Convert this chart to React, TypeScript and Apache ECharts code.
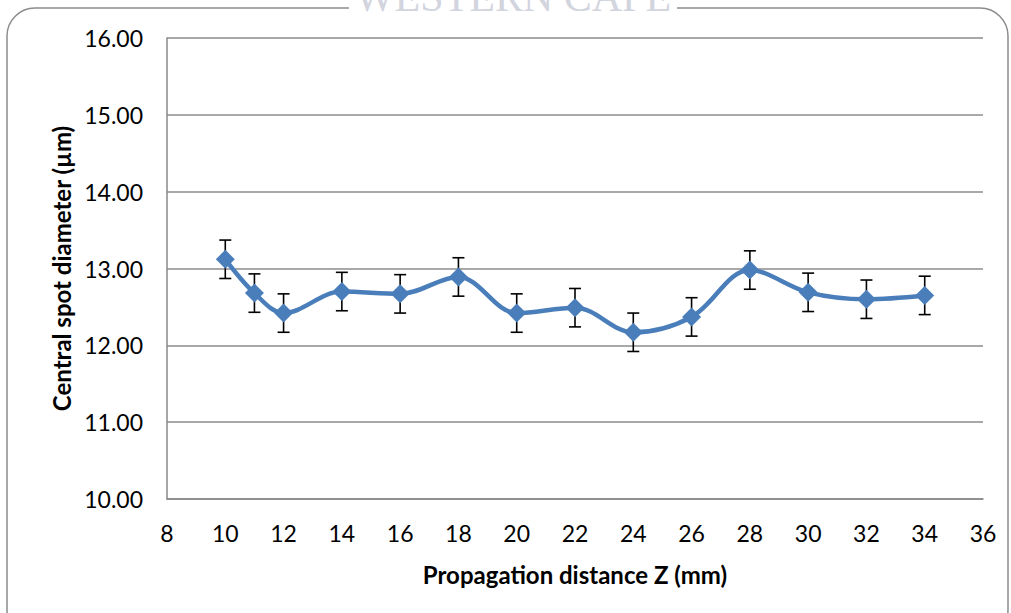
import React, { useEffect, useRef } from "react";
import * as echarts from "echarts";

// Propagation distance Z (mm) and measured central spot diameter (µm)
const distances = [10, 11, 12, 14, 16, 18, 20, 22, 24, 26, 28, 30, 32, 34];
const diameters = [13.12, 12.68, 12.42, 12.7, 12.67, 12.89, 12.42, 12.49, 12.17, 12.37, 12.98, 12.69, 12.6, 12.65];
const errors = [0.25, 0.25, 0.25, 0.25, 0.25, 0.25, 0.25, 0.25, 0.25, 0.25, 0.25, 0.25, 0.25, 0.25];

const FONT = "'Lato', 'Open Sans', sans-serif";

export default function App() {
  const ref = useRef<HTMLDivElement>(null);

  useEffect(() => {
    if (!ref.current) return;
    const chart = echarts.init(ref.current, undefined, { renderer: "svg" });

    const lineData = distances.map((d, i) => [d, diameters[i]]);
    const errData = distances.map((d, i) => [d, diameters[i] - errors[i], diameters[i] + errors[i]]);

    chart.setOption({
      animation: false,
      backgroundColor: "#ffffff",
      graphic: [
        {
          type: "rect",
          shape: { x: 7, y: 8, width: 1001, height: 630, r: 28 },
          style: { fill: "none", stroke: "#8c8c8c", lineWidth: 1.5 },
          z: 0,
        },
        {
          type: "text",
          x: 513,
          y: -3,
          style: {
            text: "WESTERN CAPE",
            font: "42px 'Liberation Serif', serif",
            fill: "#d2d4de",
            align: "center",
            verticalAlign: "middle",
            backgroundColor: "#ffffff",
            padding: [0, 6, 0, 6],
          },
          z: 1,
        },
      ],
      grid: { left: 167, right: 28, top: 38, bottom: 114 },
      xAxis: {
        type: "value",
        min: 8,
        max: 36,
        interval: 2,
        name: "Propagation distance Z (mm)",
        nameLocation: "middle",
        nameGap: 63,
        nameTextStyle: { fontFamily: FONT, fontSize: 24, fontWeight: "bold", color: "#000" },
        axisLine: { show: true, lineStyle: { color: "#888", width: 1.5 } },
        axisTick: { show: false },
        splitLine: { show: false },
        axisLabel: { fontFamily: FONT, fontSize: 23, color: "#000", margin: 22 },
      },
      yAxis: {
        type: "value",
        min: 10,
        max: 16,
        interval: 1,
        name: "Central spot diameter (µm)",
        nameLocation: "middle",
        nameGap: 94,
        nameTextStyle: { fontFamily: FONT, fontSize: 24, fontWeight: "bold", color: "#000" },
        axisLine: { show: true, lineStyle: { color: "#888", width: 1.5 } },
        axisTick: { show: false },
        splitLine: { show: true, lineStyle: { color: "#8c8c8c", width: 1.5 } },
        axisLabel: {
          fontFamily: FONT,
          fontSize: 23,
          color: "#000",
          margin: 24,
          formatter: (v: number) => v.toFixed(2),
        },
      },
      series: [
        {
          type: "custom",
          data: errData,
          z: 3,
          renderItem: (params: any, api: any) => {
            const x = api.value(0);
            const lo = api.coord([x, api.value(1)]);
            const hi = api.coord([x, api.value(2)]);
            const cap = 6;
            const style = { stroke: "#000", lineWidth: 1.6 };
            return {
              type: "group",
              children: [
                { type: "line", shape: { x1: lo[0], y1: lo[1], x2: hi[0], y2: hi[1] }, style },
                { type: "line", shape: { x1: lo[0] - cap, y1: lo[1], x2: lo[0] + cap, y2: lo[1] }, style },
                { type: "line", shape: { x1: hi[0] - cap, y1: hi[1], x2: hi[0] + cap, y2: hi[1] }, style },
              ],
            };
          },
        },
        {
          type: "line",
          data: lineData,
          smooth: 0.35,
          z: 4,
          symbol: "diamond",
          symbolSize: 19,
          lineStyle: { color: "#4a7ebb", width: 4.5 },
          itemStyle: { color: "#4a7ebb" },
        },
      ],
    });

    return () => chart.dispose();
  }, []);

  return (
    <div
      ref={ref}
      style={{ position: "fixed", left: 0, top: 0, width: 1011, height: 613, background: "#fff" }}
    />
  );
}
